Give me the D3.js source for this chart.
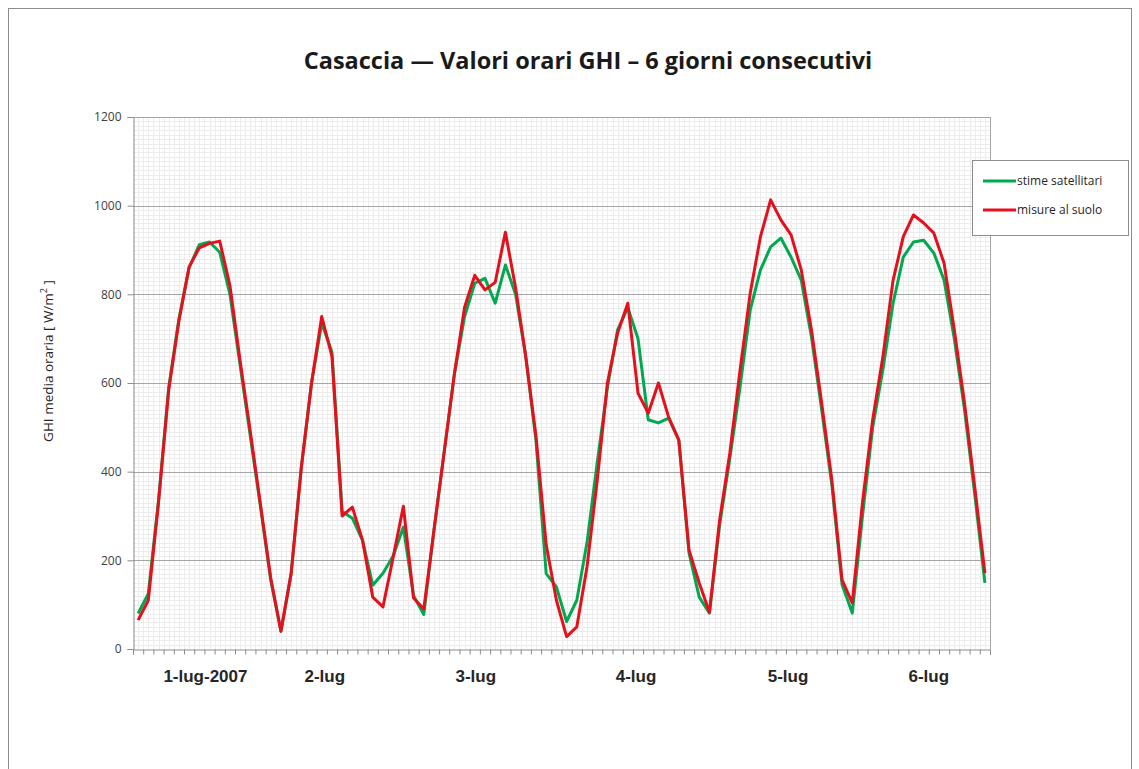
<!DOCTYPE html>
<html>
<head>
<meta charset="utf-8">
<script src="https://cdn.jsdelivr.net/npm/d3@7"></script>
<style>
  body { margin: 0; background: #fff; }
  svg { display: block; }
</style>
</head>
<body>
<div id="chart"></div>
<script>
// Hourly GHI values, 6 consecutive days (daylight hours only, 14 per day).
const satellite = [
  80, 125, 335, 590, 745, 860, 912, 918, 895, 800, 640, 480, 320, 155,
  40, 170, 410, 600, 735, 670, 310, 295, 245, 144, 171, 210, 275, 120,
  78, 268, 444, 620, 750, 825, 836, 780, 866, 800, 659, 470, 170, 140,
  62, 110, 240, 420, 590, 720, 770, 700, 517, 510, 521, 471, 216, 117,
  81, 280, 430, 591, 765, 855, 907, 927, 884, 832, 704, 540, 370, 145,
  81, 300, 500, 630, 780, 884, 918, 922, 893, 832, 700, 540, 350, 149
];
const ground = [
  65, 110, 330, 584, 740, 862, 905, 915, 920, 820, 650, 490, 325, 160,
  40, 170, 410, 600, 750, 660, 300, 320, 245, 117, 95, 207, 322, 115,
  90, 268, 444, 620, 771, 843, 810, 827, 940, 815, 659, 480, 235, 110,
  28, 50, 185, 380, 600, 713, 780, 577, 532, 600, 523, 471, 223, 149,
  83, 291, 442, 629, 803, 930, 1013, 968, 934, 855, 720, 555, 381, 156,
  104, 330, 517, 659, 832, 930, 979, 961, 938, 870, 720, 555, 366, 171
];
const seriesNames = ['stime satellitari', 'misure al suolo'];
const dayLabels = ['1-lug-2007', '2-lug', '3-lug', '4-lug', '5-lug', '6-lug'];
const dayLabelAt = [6.6, 18.3, 33.1, 48.8, 63.7, 77.5];
const yTicks = [0, 200, 400, 600, 800, 1000, 1200];

const W = 1139, H = 769;
const plot = { left: 133, right: 990, top: 117, bottom: 649 };
const colors = ['#00a850', '#e5101c'];
const textFont = '"Open Sans", Lato, sans-serif';

const svg = d3.select('#chart').append('svg')
  .attr('width', W)
  .attr('height', H);

svg.append('rect')
  .attr('width', W).attr('height', H)
  .attr('fill', '#fff');

// outer chart frame
svg.append('rect')
  .attr('x', 8.5).attr('y', 8.5)
  .attr('width', 1123).attr('height', 790)
  .attr('fill', 'none')
  .attr('stroke', '#8c8c8c')
  .attr('stroke-width', 1);

const n = satellite.length;
const x = d3.scaleLinear().domain([0, n]).range([plot.left, plot.right]);
const y = d3.scaleLinear().domain([0, 1200]).range([plot.bottom, plot.top]);

// minor grid
const grid = svg.append('g').attr('class', 'grid');
grid.selectAll('.minor-h')
  .data(d3.range(0, 1200, 10).filter(v => v % 200 !== 0))
  .join('line')
  .attr('class', 'minor-h')
  .attr('x1', plot.left).attr('x2', plot.right)
  .attr('y1', d => Math.round(y(d)) + 0.5)
  .attr('y2', d => Math.round(y(d)) + 0.5)
  .attr('stroke', '#ececec');
grid.selectAll('.minor-v')
  .data(d3.range(0.5, n, 0.5))
  .join('line')
  .attr('class', 'minor-v')
  .attr('x1', d => Math.round(x(d)) + 0.5)
  .attr('x2', d => Math.round(x(d)) + 0.5)
  .attr('y1', plot.top).attr('y2', plot.bottom)
  .attr('stroke', '#ececec');

// major grid
grid.selectAll('.major-h')
  .data(yTicks.slice(1))
  .join('line')
  .attr('class', 'major-h')
  .attr('x1', plot.left).attr('x2', plot.right)
  .attr('y1', d => Math.round(y(d)) + 0.5)
  .attr('y2', d => Math.round(y(d)) + 0.5)
  .attr('stroke', '#a6a6a6');

// plot border right
svg.append('line')
  .attr('x1', plot.right + 0.5).attr('x2', plot.right + 0.5)
  .attr('y1', plot.top).attr('y2', plot.bottom)
  .attr('stroke', '#a6a6a6');

// y axis
const yAxis = svg.append('g')
  .attr('transform', 'translate(' + (plot.left + 0.5) + ',0)')
  .call(d3.axisLeft(y).tickValues(yTicks).tickFormat(d3.format('d')).tickSize(6).tickPadding(6));
yAxis.select('.domain').attr('stroke', '#8c8c8c');
yAxis.selectAll('.tick line').attr('stroke', '#8c8c8c');
yAxis.selectAll('.tick text')
  .attr('font-family', textFont)
  .attr('font-size', 12)
  .attr('fill', '#404040');

// x axis
const xAxis = svg.append('g')
  .attr('transform', 'translate(0,' + (plot.bottom + 0.5) + ')')
  .call(d3.axisBottom(x).tickValues(d3.range(0, n + 1)).tickSize(5).tickFormat(''));
xAxis.select('.domain').attr('stroke', '#8c8c8c');
xAxis.selectAll('.tick line').attr('stroke', '#8c8c8c');

svg.append('g').selectAll('text')
  .data(dayLabels)
  .join('text')
  .attr('x', (d, i) => x(dayLabelAt[i] + 0.5))
  .attr('y', 682)
  .attr('text-anchor', 'middle')
  .attr('font-family', '"Liberation Sans", Arial, sans-serif')
  .attr('font-weight', 'bold')
  .attr('font-size', 17)
  .attr('fill', '#262626')
  .text(d => d);

// y axis title
const yTitle = svg.append('text')
  .attr('transform', 'translate(53,' + ((plot.top + plot.bottom) / 2 - 22) + ') rotate(-90)')
  .attr('text-anchor', 'middle')
  .attr('font-family', textFont)
  .attr('font-size', 13.5)
  .attr('fill', '#262626');
yTitle.append('tspan').text('GHI  media oraria [ W/m');
yTitle.append('tspan').attr('baseline-shift', 'super').attr('font-size', 9).text('2');
yTitle.append('tspan').text(' ]');

// title
svg.append('text')
  .attr('x', 588)
  .attr('y', 69)
  .attr('text-anchor', 'middle')
  .attr('font-family', textFont)
  .attr('font-weight', 'bold')
  .attr('font-size', 23.5)
  .attr('fill', '#1a1a1a')
  .text('Casaccia \u2014 Valori orari GHI \u2013 6 giorni consecutivi');

// lines
const line = d3.line()
  .x((d, i) => x(i + 0.5))
  .y(d => y(d));

svg.append('g').selectAll('path')
  .data([satellite, ground])
  .join('path')
  .attr('d', line)
  .attr('fill', 'none')
  .attr('stroke', (d, i) => colors[i])
  .attr('stroke-width', 3)
  .attr('stroke-linejoin', 'round');

// legend
const legend = svg.append('g').attr('transform', 'translate(972,160)');
legend.append('rect')
  .attr('x', 0.5).attr('y', 0.5)
  .attr('width', 156).attr('height', 75)
  .attr('fill', '#fff')
  .attr('stroke', '#8c8c8c');
const items = legend.selectAll('.item')
  .data(seriesNames)
  .join('g')
  .attr('class', 'item')
  .attr('transform', (d, i) => 'translate(0,' + (21 + i * 29) + ')');
items.append('line')
  .attr('x1', 11).attr('x2', 44)
  .attr('stroke', (d, i) => colors[i])
  .attr('stroke-width', 3);
items.append('text')
  .attr('x', 45)
  .attr('dy', '0.35em')
  .attr('font-family', textFont)
  .attr('font-size', 12)
  .attr('fill', '#262626')
  .text(d => d);
</script>
</body>
</html>
